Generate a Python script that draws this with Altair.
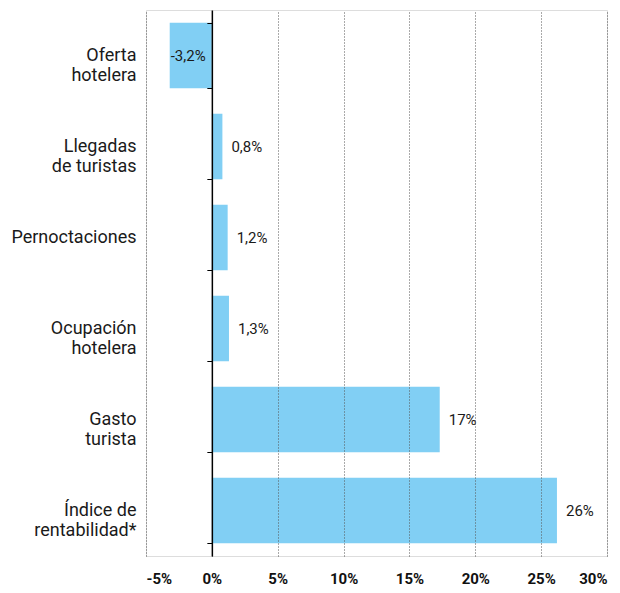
import altair as alt
import pandas as pd

categories = ["Oferta\nhotelera", "Llegadas\nde turistas", "Pernoctaciones",
              "Ocupación\nhotelera", "Gasto\nturista", "Índice de\nrentabilidad*"]
values = [-3.2, 0.8, 1.2, 1.3, 17.3, 26.2]
labels = ["-3,2%", "0,8%", "1,2%", "1,3%", "17%", "26%"]
x_ticks = [-5, 0, 5, 10, 15, 20, 25, 30]

df = pd.DataFrame({"cat": categories, "val": values, "lab": labels})

FONT = "Roboto"
W = 461
H = 546

y_scale = alt.Scale(domain=categories, paddingInner=0.28, paddingOuter=0.14)
x_scale = alt.Scale(domain=[-5, 30], nice=False, zero=False)

base = alt.Chart(df)

bars = base.mark_bar(color="#81CFF4").encode(
    x=alt.X("val:Q", scale=x_scale,
            axis=alt.Axis(values=x_ticks, labelExpr="datum.value + '%'",
                          title=None, domain=False, ticks=False,
                          grid=True, gridDash=[1, 2], gridColor="#555555",
                          gridWidth=1, zindex=1,
                          labelFont=FONT, labelFontSize=15, labelFontWeight="bold",
                          labelColor="#111111", labelPadding=15)),
    x2=alt.datum(0),
    y=alt.Y("cat:N", scale=y_scale, sort=categories,
            axis=alt.Axis(title=None, domain=False, ticks=False,
                          labelExpr="split(datum.label, '\\n')",
                          labelFont=FONT, labelFontSize=18, labelColor="#1a1a1a",
                          labelLineHeight=20, labelPadding=10, labelLimit=300)),
)

pos_text = base.transform_filter("datum.val >= 0").mark_text(
    align="left", baseline="middle", dx=9, font=FONT, fontSize=15, color="#1a1a1a"
).encode(
    x=alt.X("val:Q", scale=x_scale),
    y=alt.Y("cat:N", scale=y_scale, sort=categories, axis=None),
    text="lab:N",
)

neg_text = base.transform_filter("datum.val < 0").mark_text(
    align="left", baseline="middle", dx=1, font=FONT, fontSize=15, color="#1a1a1a"
).encode(
    x=alt.X("val:Q", scale=x_scale),
    y=alt.Y("cat:N", scale=y_scale, sort=categories,
            axis=alt.Axis(title=None, orient="left", labels=False,
                          domain=True, domainColor="#000000", domainWidth=1.5,
                          ticks=True, tickColor="#000000", tickSize=5, tickWidth=1,
                          tickBand="extent", offset=-(W * 5 / 35), zindex=2)),
    text="lab:N",
)

chart = alt.layer(bars, pos_text, neg_text).resolve_axis(y="independent").properties(
    width=W, height=H, padding={"top": 2, "left": 2, "right": 5, "bottom": 5}
).configure_view(stroke=None).configure(background="white")

chart.save("out.html", embed_options={"renderer": "svg", "actions": False})
